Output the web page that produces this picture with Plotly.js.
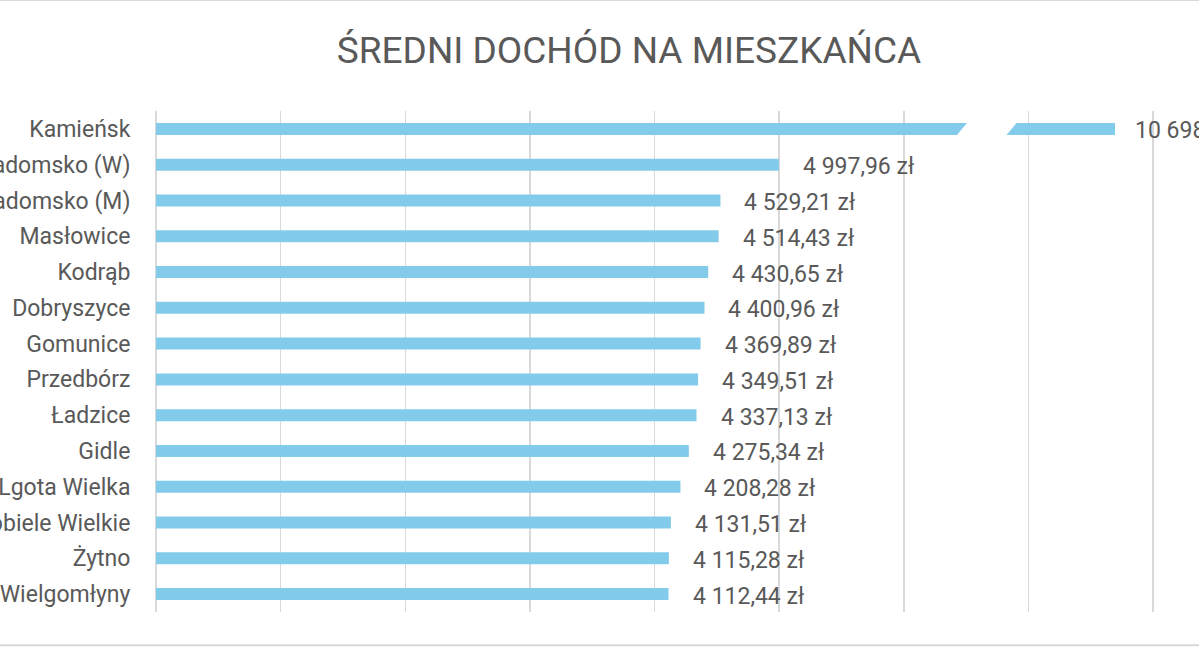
<!DOCTYPE html>
<html lang="pl">
<head>
<meta charset="utf-8">
<script src="https://cdn.plot.ly/plotly-3.0.1.min.js"></script>
<style>
  html, body { margin: 0; padding: 0; background: #ffffff; }
  #chart { width: 1199px; height: 647px; }
</style>
</head>
<body>
<div id="chart"></div>
<script>
// Gminy powiatu radomszczańskiego – średni dochód na mieszkańca (zł)
const gminy = [
  "Kamieńsk", "Radomsko (W)", "Radomsko (M)", "Masłowice", "Kodrąb",
  "Dobryszyce", "Gomunice", "Przedbórz", "Ładzice", "Gidle",
  "Lgota Wielka", "Kobiele Wielkie", "Żytno", "Wielgomłyny"
];
const dochod = [
  10698.00, 4997.96, 4529.21, 4514.43, 4430.65,
  4400.96, 4369.89, 4349.51, 4337.13, 4275.34,
  4208.28, 4131.51, 4115.28, 4112.44
];

// Gmina z wartością odstającą rysowana jest na osi z przerwą
const outlierName = gminy[0];
const outlierValue = dochod[0];
const restNames = gminy.slice(1);
const restValues = dochod.slice(1);

// Zakresy osi: główna skala oraz skala odcinka za przerwą
const MAIN_MAX = 8369;
const BROKEN_MAX = 11635;
const BREAK_FROM = 6467;   // środek lewego cięcia, jednostki osi głównej
const BREAK_TO = 6865;     // środek prawego cięcia
const CUT = 120;           // poziomy zasięg skosu

const BAR_COLOR = "#83CBEB";
const TEXT_COLOR = "#595959";
const FONT = "Roboto, 'Open Sans', sans-serif";

function formatZl(v) {
  const parts = v.toFixed(2).split(".");
  const int = parts[0].replace(/\B(?=(\d{3})+(?!\d))/g, " ");
  return int + "," + parts[1] + " zł";
}

const traces = [
  {
    type: "bar",
    orientation: "h",
    x: restValues,
    y: restNames,
    width: 0.335,
    marker: { color: BAR_COLOR },
    hoverinfo: "x+y",
    xaxis: "x",
    yaxis: "y"
  },
  {
    type: "bar",
    orientation: "h",
    x: [outlierValue],
    y: [outlierName],
    width: 0.335,
    marker: { color: BAR_COLOR },
    hoverinfo: "x+y",
    xaxis: "x2",
    yaxis: "y"
  }
];

const labelFont = { family: FONT, size: 23, color: TEXT_COLOR };

const annotations = restValues.map((v, i) => ({
  x: v, y: restNames[i], xref: "x", yref: "y",
  text: formatZl(v), showarrow: false,
  xanchor: "left", yanchor: "middle", xshift: 22, yshift: -2,
  font: labelFont
}));
annotations.push({
  x: outlierValue, y: outlierName, xref: "x2", yref: "y",
  text: formatZl(outlierValue), showarrow: false,
  xanchor: "left", yanchor: "middle", xshift: 18, yshift: -2,
  font: labelFont
});

// Przerwa na słupku (ukośne cięcie)
const yTop = 0.982, yBot = 0.946;
const breakShape = {
  type: "path",
  xref: "x", yref: "paper",
  path: `M ${BREAK_FROM - CUT / 2},${yBot} L ${BREAK_FROM + CUT / 2},${yTop} ` +
        `L ${BREAK_TO + CUT / 2},${yTop} L ${BREAK_TO - CUT / 2},${yBot} Z`,
  fillcolor: "#ffffff",
  line: { width: 0 },
  layer: "above"
};

// Ramka wykresu: linie u góry i u dołu
const frameTop = {
  type: "line", xref: "paper", yref: "paper",
  x0: -0.2, x1: 1.0, y0: 1.2216, y1: 1.2216,
  line: { color: "#d9d9d9", width: 2 }
};
const frameBottom = {
  type: "line", xref: "paper", yref: "paper",
  x0: -0.2, x1: 1.0, y0: -0.0665, y1: -0.0665,
  line: { color: "#d9d9d9", width: 2 }
};

const layout = {
  width: 1199,
  height: 647,
  margin: { l: 156, r: 0, t: 111, b: 35, autoexpand: false },
  paper_bgcolor: "#ffffff",
  plot_bgcolor: "#ffffff",
  showlegend: false,
  barmode: "overlay",
  font: { family: FONT, color: TEXT_COLOR },
  title: {
    text: "ŚREDNI DOCHÓD NA MIESZKAŃCA",
    xref: "container", x: 0.5246, xanchor: "center",
    yref: "container", y: 0.922, yanchor: "middle",
    font: { family: FONT, size: 37, color: TEXT_COLOR }
  },
  xaxis: {
    range: [0, MAIN_MAX],
    dtick: 1000,
    tick0: 0,
    showgrid: true,
    gridcolor: "#d9d9d9",
    gridwidth: 1.5,
    zeroline: true,
    zerolinecolor: "#d9d9d9",
    zerolinewidth: 1.5,
    showticklabels: false,
    ticks: "",
    showline: false,
    fixedrange: true
  },
  xaxis2: {
    overlaying: "x",
    range: [0, BROKEN_MAX],
    visible: false,
    fixedrange: true
  },
  yaxis: {
    type: "category",
    categoryorder: "array",
    categoryarray: gminy,
    range: [gminy.length - 0.5, -0.5],
    showgrid: false,
    zeroline: false,
    showline: false,
    ticks: "outside",
    ticklen: 20,
    tickcolor: "rgba(0,0,0,0)",
    tickfont: labelFont,
    automargin: false,
    fixedrange: true
  },
  annotations: annotations,
  shapes: [breakShape, frameTop, frameBottom]
};

Plotly.newPlot("chart", traces, layout, { displayModeBar: false, staticPlot: true });
</script>
</body>
</html>
